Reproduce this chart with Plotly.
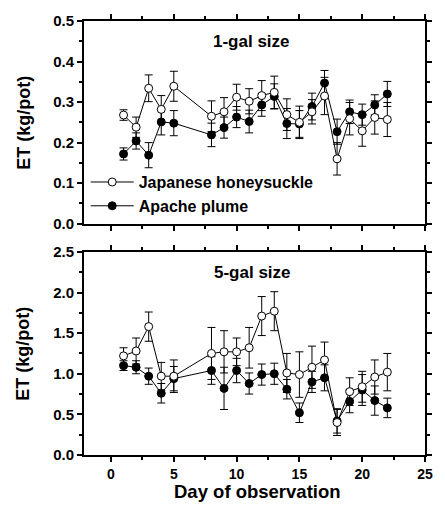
import plotly.graph_objects as go

days = [1, 2, 3, 4, 5, 8, 9, 10, 11, 12, 13, 14, 15, 16, 17, 18, 19, 20, 21, 22]

# 1-gal size
jh1 = [0.268, 0.238, 0.334, 0.282, 0.339, 0.265, 0.276, 0.312, 0.302, 0.316, 0.324, 0.269, 0.250, 0.276, 0.315, 0.160, 0.259, 0.229, 0.262, 0.257]
jh1_err = [0.013, 0.025, 0.033, 0.034, 0.037, 0.038, 0.035, 0.032, 0.031, 0.037, 0.040, 0.039, 0.040, 0.030, 0.046, 0.040, 0.040, 0.038, 0.041, 0.042]
ap1 = [0.172, 0.204, 0.169, 0.251, 0.248, 0.219, 0.237, 0.263, 0.252, 0.293, 0.314, 0.247, 0.246, 0.289, 0.347, 0.227, 0.276, 0.269, 0.293, 0.320]
ap1_err = [0.015, 0.020, 0.031, 0.032, 0.031, 0.029, 0.026, 0.026, 0.028, 0.028, 0.031, 0.037, 0.033, 0.033, 0.031, 0.031, 0.029, 0.026, 0.025, 0.031]

# 5-gal size
jh5 = [1.22, 1.28, 1.58, 0.97, 0.97, 1.25, 1.27, 1.27, 1.32, 1.71, 1.77, 1.01, 0.99, 1.08, 1.17, 0.40, 0.78, 0.84, 0.96, 1.02]
jh5_err = [0.10, 0.16, 0.18, 0.17, 0.20, 0.32, 0.26, 0.17, 0.25, 0.24, 0.24, 0.24, 0.28, 0.26, 0.22, 0.16, 0.17, 0.19, 0.21, 0.23]
ap5 = [1.10, 1.08, 0.97, 0.76, 0.94, 1.04, 0.82, 1.04, 0.88, 0.99, 1.00, 0.81, 0.52, 0.90, 0.95, 0.42, 0.66, 0.80, 0.67, 0.58]
ap5_err = [0.06, 0.08, 0.10, 0.12, 0.15, 0.17, 0.26, 0.15, 0.13, 0.13, 0.13, 0.12, 0.12, 0.13, 0.16, 0.15, 0.14, 0.19, 0.18, 0.12]

series_names = ["Japanese honeysuckle", "Apache plume"]
panel_titles = ["1-gal size", "5-gal size"]
y_title = "ET (kg/pot)"
x_title = "Day of observation"

FONT = "Liberation Sans, Arial, sans-serif"

fig = go.Figure()

def add_series(y, err, name, filled, xa, ya, show, rank):
    fig.add_trace(go.Scatter(
        x=days, y=y, name=name, mode="lines+markers",
        xaxis=xa, yaxis=ya, showlegend=show, legendrank=rank,
        line=dict(color="black", width=1),
        marker=dict(symbol="circle", size=8,
                    color="black" if filled else "white",
                    line=dict(color="black", width=1)),
        error_y=dict(type="data", array=err, visible=True,
                     color="black", thickness=1, width=4),
    ))

# draw filled first so open circles sit on top
add_series(ap1, ap1_err, series_names[1], True, "x", "y", True, 2)
add_series(jh1, jh1_err, series_names[0], False, "x", "y", True, 1)
add_series(ap5, ap5_err, series_names[1], True, "x2", "y2", False, 2)
add_series(jh5, jh5_err, series_names[0], False, "x2", "y2", False, 1)

axis_common = dict(
    showline=True, linecolor="black", linewidth=2, mirror="ticks",
    ticks="outside", ticklen=5, tickwidth=1.5, tickcolor="black",
    showgrid=False, zeroline=False,
    tickfont=dict(family=FONT, size=15, color="black", weight="bold"),
)
xtickfont = dict(family=FONT, size=14, color="black", weight="bold")

fig.update_layout(
    width=445, height=517, autosize=False,
    margin=dict(l=84, r=12, t=19, b=62),
    paper_bgcolor="white", plot_bgcolor="white",
    font=dict(family=FONT, color="black"),
    xaxis=dict(domain=[0, 1], anchor="y", range=[-2.15, 25], dtick=5, tick0=0,
               showticklabels=False,
               minor=dict(dtick=2.5, ticklen=3, tickcolor="black", ticks="outside"),
               **axis_common),
    yaxis=dict(domain=[0.533, 1.0], anchor="x", range=[0, 0.5], dtick=0.1, tick0=0,
               tickformat=".1f",
               minor=dict(dtick=0.05, ticklen=3, tickcolor="black", ticks="outside"),
               **axis_common),
    xaxis2=dict(domain=[0, 1], anchor="y2", range=[-2.15, 25], dtick=5, tick0=0,
                minor=dict(dtick=2.5, ticklen=3, tickcolor="black", ticks="outside"),
                **{**axis_common, "tickfont": xtickfont}),
    yaxis2=dict(domain=[0, 0.468], anchor="x2", range=[0, 2.5], dtick=0.5, tick0=0,
                tickformat=".1f",
                minor=dict(dtick=0.25, ticklen=3, tickcolor="black", ticks="outside"),
                **axis_common),
    legend=dict(x=0.005, y=0.668, xanchor="left", yanchor="top",
                bgcolor="rgba(0,0,0,0)", borderwidth=0,
                font=dict(family=FONT, size=16, color="black", weight="bold"),
                tracegroupgap=0, itemwidth=43),
    annotations=[
        dict(text=panel_titles[0], xref="x domain", yref="y domain", x=0.49, y=0.9,
             xanchor="center", yanchor="middle",
             showarrow=False, font=dict(family=FONT, size=17, color="black", weight="bold")),
        dict(text=panel_titles[1], xref="x2 domain", yref="y2 domain", x=0.495, y=0.9,
             xanchor="center", yanchor="middle",
             showarrow=False, font=dict(family=FONT, size=17, color="black", weight="bold")),
        dict(text=y_title, xref="paper", yref="paper", x=-0.178, y=0.766, textangle=-90,
             xanchor="center", yanchor="middle",
             showarrow=False, font=dict(family=FONT, size=18, color="black", weight="bold")),
        dict(text=y_title, xref="paper", yref="paper", x=-0.178, y=0.234, textangle=-90,
             xanchor="center", yanchor="middle",
             showarrow=False, font=dict(family=FONT, size=18, color="black", weight="bold")),
        dict(text=x_title, xref="paper", yref="paper", x=0.51, y=-0.0835,
             xanchor="center", yanchor="middle",
             showarrow=False, font=dict(family=FONT, size=18.5, color="black", weight="bold")),
    ],
)

fig.write_html(
    "out.html",
    config={"responsive": False, "displayModeBar": False},
    post_script="document.body.style.margin='0';document.body.style.overflow='hidden';",
)
